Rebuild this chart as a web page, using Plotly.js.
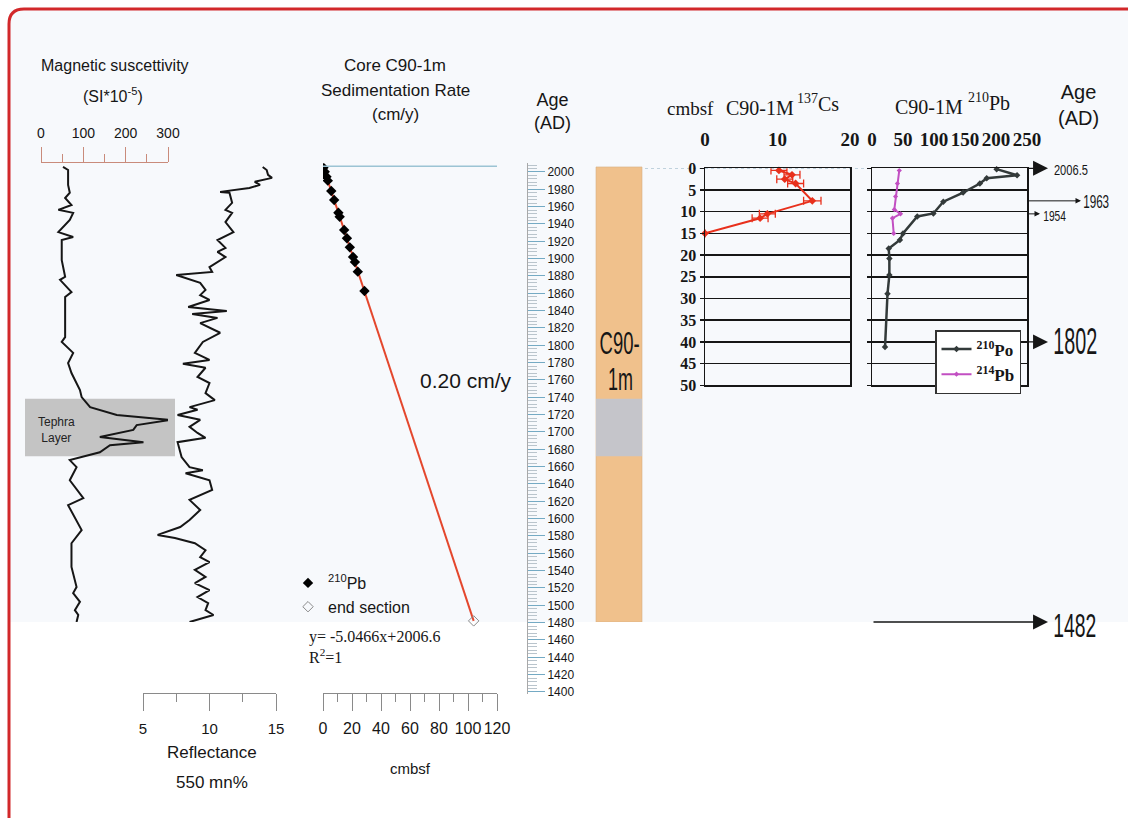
<!DOCTYPE html>
<html>
<head>
<meta charset="utf-8">
<script src="https://cdn.plot.ly/plotly-3.0.1.min.js"></script>
<style>
  html, body { margin: 0; padding: 0; background: #ffffff; }
  #chart { width: 1128px; height: 818px; }
</style>
</head>
<body>
<div id="chart"></div>
<script>
// ---- Magnetic susceptibility (SI*10^-5) against depth (cm) ----
const msDepth = [0, 0.7, 4.1, 5.9, 7.1, 7.5, 8.7, 9.8, 10.5, 12.1, 14.9, 16.0, 16.7, 21.3, 25.1, 25.8, 28.6, 29.7, 38.9, 40.0,
  42.5, 44.8, 47.1, 51.0, 52.6, 54.9, 56.7, 57.8, 59.0, 60.1, 61.7, 62.9, 63.6, 65.2, 66.3, 67.0, 68.6, 71.6, 75.7, 77.3,
  83.0, 86.0, 91.4, 96.0, 97.4, 99.4, 101.3, 102.4, 104];
const msValue = [52, 64, 64, 68, 57, 61, 72, 41, 76, 68, 41, 76, 49, 49, 57, 45, 72, 57, 57, 49,
  76, 64, 72, 92, 96, 116, 179, 305, 226, 218, 139, 242, 163, 139, 92, 68, 84, 68, 100, 64,
  96, 72, 72, 84, 76, 92, 80, 88, 84];

// ---- Reflectance 550 nm (%) against depth (cm) ----
const rfDepth = [0, 0.7, 1.8, 2.5, 3.4, 4.1, 4.8, 5.7, 5.9, 8.2, 9.8, 10.5, 12.6, 14.9, 16.7, 18.5, 19.4, 20.6, 22.9, 24.0,
  24.7, 25.8, 26.5, 28.1, 29.3, 30.4, 32.0, 32.9, 33.6, 34.5, 35.7, 37.9, 40.0, 42.5, 44.1, 45.0, 45.9, 48.0, 49.4, 51.7,
  53.3, 54.9, 55.5, 56.7, 57.8, 59.4, 60.8, 61.9, 62.9, 66.3, 68.6, 69.3, 70.0, 71.6, 73.8, 76.1, 78.4, 80.7, 82.3, 84.1,
  84.8, 86.0, 87.6, 89.2, 90.3, 92.1, 93.7, 95.1, 96.7, 98.3, 99.7, 101.3, 102.4, 104];
const rfValue = [14.0, 14.3, 14.4, 14.7, 13.4, 13.8, 13.0, 10.8, 11.5, 11.7, 11.2, 11.7, 11.2, 11.8, 10.6, 11.2, 10.6, 11.2, 10.0, 10.2,
  7.5, 8.5, 9.3, 9.7, 9.3, 10.0, 8.4, 11.3, 8.7, 10.6, 9.3, 10.8, 9.5, 8.9, 10.0, 8.0, 9.7, 9.1, 10.0, 9.7,
  10.4, 8.5, 9.1, 7.6, 9.3, 8.5, 9.1, 9.7, 7.6, 7.9, 8.5, 9.5, 8.2, 10.0, 10.2, 8.5, 9.3, 8.5, 7.8, 6.1,
  7.4, 8.9, 9.7, 9.3, 10.0, 8.9, 9.7, 8.9, 10.0, 9.1, 9.9, 9.7, 10.3, 8.5];

// Tephra layer and core extent (cm)
const coreDepth = [0, 104];
const tephraDepth = [53.0, 66.1];

// ---- Sedimentation rate: 210Pb ages and linear fit y = -5.0466x + 2006.6 ----
const pbDepth = [0.3, 1.2, 2.4, 3.3, 5.7, 7.7, 10.6, 11.5, 14.6, 16.5, 18.5, 20.7, 22.0, 24.0, 28.6];
const pbAge = [2005.0, 2000.3, 1994.6, 1990.0, 1978.0, 1967.7, 1953.0, 1948.4, 1933.0, 1923.5, 1913.0, 1902.0, 1896.0, 1885.0, 1862.7];
const fitDepth = [0, 103.9];
const fitAge = [2006.6, 1482];
const endDepth = [103.9];
const endAge = [1482];
const ageTicks = [];
for (let a = 1400; a <= 2000; a += 20) ageTicks.push(a);
const cmTicks = [0, 20, 40, 60, 80, 100, 120];
const cmMinor = [10, 30, 50, 70, 90, 110];

// ---- 137Cs activity ----
const csDepth = [0.5, 1.5, 2.5, 3.5, 7.5, 10.5, 11.5, 15];
const csValue = [10.2, 12.0, 11.0, 12.5, 14.8, 8.6, 7.6, 0];
const csErr = [1.1, 1.1, 1.1, 1.1, 1.2, 1.1, 1.1, 0];

// ---- 210Pb profile (210Po and 214Pb) ----
const poDepth = [0.2, 1.6, 2.3, 3.5, 5.6, 7.7, 10.4, 11.1, 15, 16.5, 18.5, 20.8, 24.6, 28.9, 41.2];
const poValue = [201, 234, 185, 174, 147, 115, 99, 73, 50, 45, 27, 28, 28, 25, 21];
const pb214Depth = [0.5, 3.5, 6.5, 9.5, 10.5, 11.5, 15];
const pb214Value = [44, 41, 38, 36, 46, 33, 35];
const profileTicks = [0, 5, 10, 15, 20, 25, 30, 35, 40, 45, 50];

// Dated horizons (depth in cm, age label)
const horizonDepth = [0, 7.5, 10.5, 40];
const horizonLabel = ['2006.5', '1963', '1954', '1802'];
const baseLabel = '1482';

// ---- page geometry helpers (pixel -> paper) ----
const W = 1128, H = 818;
const px = v => v / W;
const py = v => 1 - v / H;

const SANS = 'Liberation Sans, Arial, sans-serif';
const SERIF = 'Liberation Serif, Times New Roman, serif';
const INK = '#161616';

const traces = [
  { x: msValue, y: msDepth, xaxis: 'x', yaxis: 'y', mode: 'lines', line: { color: INK, width: 2 }, showlegend: false, hoverinfo: 'skip' },
  { x: rfValue, y: rfDepth, xaxis: 'x2', yaxis: 'y', mode: 'lines', line: { color: INK, width: 2 }, showlegend: false, hoverinfo: 'skip' },
  { x: fitDepth, y: fitAge, xaxis: 'x3', yaxis: 'y3', mode: 'lines', line: { color: '#e4472d', width: 2 }, showlegend: false },
  { x: pbDepth, y: pbAge, xaxis: 'x3', yaxis: 'y3', mode: 'markers', name: '<sup>210</sup>Pb',
    marker: { symbol: 'diamond', size: 8, color: '#000' }, legend: 'legend2' },
  { x: endDepth, y: endAge, xaxis: 'x3', yaxis: 'y3', mode: 'markers', name: 'end section', cliponaxis: false,
    marker: { symbol: 'diamond-open', size: 8, color: '#8a8a8a', line: { width: 1 } }, legend: 'legend2' },
  { x: csValue, y: csDepth, xaxis: 'x4', yaxis: 'y4', mode: 'lines+markers', showlegend: false, cliponaxis: false,
    line: { color: '#e8301c', width: 2 }, marker: { symbol: 'diamond', size: 6, color: '#e8301c' },
    error_x: { type: 'data', array: csErr, color: '#e8301c', thickness: 1.3, width: 4 } },
  { x: poValue, y: poDepth, xaxis: 'x5', yaxis: 'y5', mode: 'lines+markers', name: '<sup>210</sup>Po', cliponaxis: false,
    line: { color: '#333a3a', width: 2.5 }, marker: { symbol: 'diamond', size: 5, color: '#333a3a' } },
  { x: pb214Value, y: pb214Depth, xaxis: 'x5', yaxis: 'y5', mode: 'lines+markers', name: '<sup>214</sup>Pb',
    line: { color: '#c24fc2', width: 2 }, marker: { symbol: 'diamond', size: 4, color: '#c24fc2' } }
];

const profileY = {
  domain: [py(385.3), py(168.3)], range: [50, 0], tickvals: profileTicks,
  ticks: 'outside', ticklen: 4, tickcolor: INK, tickwidth: 1.5,
  showgrid: true, gridcolor: INK, gridwidth: 1.5, zeroline: false,
  showline: true, mirror: true, linecolor: INK, linewidth: 1.5,
  tickfont: { family: SERIF, size: 16, color: INK, weight: 'bold' }, fixedrange: true
};
const profileX = {
  side: 'top', ticks: '', showline: true, mirror: true, linecolor: INK, linewidth: 1.5,
  showgrid: false, zeroline: false, ticklabelstandoff: 13,
  tickfont: { family: SERIF, size: 19, color: INK, weight: 'bold' }, fixedrange: true
};

function txt(text, x, y, size, opts) {
  return Object.assign({
    text: text, xref: 'paper', yref: 'paper', x: px(x), y: py(y), showarrow: false,
    xanchor: 'center', yanchor: 'middle', font: { family: SANS, size: size, color: INK }
  }, opts || {});
}
function arrow(yref, yv, tipX, tailX, big) {
  return {
    text: '', xref: 'paper', x: px(tipX), yref: yref, y: yv, axref: 'pixel', ayref: 'pixel',
    ax: tailX - tipX, ay: 0, showarrow: true, arrowhead: 2,
    arrowsize: big ? 2.3 : 1.1, arrowwidth: big ? 1.3 : 1, arrowcolor: INK, standoff: 0
  };
}
function horizonText(text, x, yref, yv, size, dy) {
  return {
    text: text, xref: 'paper', x: px(x), yref: yref, y: yv, yshift: dy || 0,
    xanchor: 'center', yanchor: 'middle', showarrow: false,
    font: { family: SANS, size: size, color: INK }
  };
}
// condensed-type labels: annotation text squeezed to a set width about its centre after drawing
const condensed = [];
function narrow(ann, width) {
  condensed.push({ idx: annotations.length, width: width });
  annotations.push(ann);
}

const annotations = [
  txt('Magnetic suscettivity', 115, 66, 16),
  txt('(SI*10<sup>-5</sup>)', 113, 95, 16),
  txt('Tephra<br>Layer', 57, 430, 12, { font: { family: SANS, size: 12, color: '#222' } }),
  txt('Reflectance', 212, 752, 17),
  txt('550 mn%', 212, 782, 17),
  txt('Core C90-1m', 395, 66, 17),
  txt('Sedimentation Rate', 395, 90, 17),
  txt('(cm/y)', 395, 114, 17),
  txt('0.20 cm/y', 466, 380, 21),
  txt('y= -5.0466x+2006.6', 307, 637, 16, { xanchor: 'left', font: { family: SERIF, size: 16, color: INK } }),
  txt('R<sup>2</sup>=1', 307, 656, 16, { xanchor: 'left', font: { family: SERIF, size: 16, color: INK } }),
  txt('cmbsf', 410, 768, 15),
  txt('Age<br>(AD)', 552, 112, 18),
  txt('cmbsf', 690, 108, 19, { font: { family: SERIF, size: 19, color: INK } }),
  txt('C90-1M', 760, 108, 20, { font: { family: SERIF, size: 20, color: INK } }),
  txt('<sup>137</sup>Cs', 818, 103, 20, { font: { family: SERIF, size: 20, color: INK } }),
  txt('C90-1M', 929, 107, 20, { font: { family: SERIF, size: 20, color: INK } }),
  txt('<sup>210</sup>Pb', 989, 102, 20, { font: { family: SERIF, size: 20, color: INK } }),
  txt('Age<br>(AD)', 1078, 105, 20),
  // dated horizons
  arrow('y5', horizonDepth[0], 1048, 1027, true),
  arrow('y5', horizonDepth[1], 1081, 1027, false),
  arrow('y5', horizonDepth[2], 1040, 1027, false),
  arrow('y5', horizonDepth[3], 1048, 1027, true),
  arrow('y', coreDepth[1], 1048, 872, true)
];

narrow(txt('C90-', 619, 344, 31), 40);
narrow(txt('1m', 620, 379, 31), 25);
narrow(horizonText(horizonLabel[0], 1071, 'y5', horizonDepth[0], 15, -1), 34);
narrow(horizonText(horizonLabel[1], 1096, 'y5', horizonDepth[1], 19, -1), 26);
narrow(horizonText(horizonLabel[2], 1054, 'y5', horizonDepth[2], 14, -2), 23);
narrow(horizonText(horizonLabel[3], 1075, 'y5', horizonDepth[3], 37, 0), 44);
narrow(horizonText(baseLabel, 1075, 'y', coreDepth[1], 34, -3), 43);

const shapes = [
  // light panel behind the plots
  { type: 'rect', xref: 'paper', yref: 'paper', x0: px(10), x1: 1, y0: py(622), y1: py(10),
    fillcolor: '#f7f9fc', line: { width: 0 }, layer: 'below' },
  // frame
  { type: 'path', xref: 'paper', yref: 'paper',
    path: `M ${px(9)} 0 L ${px(9)} ${py(24)} Q ${px(9)} ${py(9)} ${px(24)} ${py(9)} L 1 ${py(9)}`,
    line: { color: '#d2282a', width: 3 }, layer: 'above' },
  // tephra band across the logs
  { type: 'rect', xref: 'paper', yref: 'y', x0: px(25), x1: px(175), y0: tephraDepth[0], y1: tephraDepth[1],
    fillcolor: '#c4c4c4', line: { width: 0 }, layer: 'below' },
  // core column
  { type: 'rect', xref: 'paper', yref: 'y', x0: px(596), x1: px(642), y0: coreDepth[0], y1: coreDepth[1],
    fillcolor: '#f0c18c', line: { color: '#d6b084', width: 0.6 }, layer: 'below' },
  { type: 'rect', xref: 'paper', yref: 'y', x0: px(596), x1: px(642), y0: tephraDepth[0], y1: tephraDepth[1],
    fillcolor: '#c5c5ca', line: { width: 0 }, layer: 'below' },
  // core top line in the age-depth plot
  { type: 'line', xref: 'x3', yref: 'y3', x0: 0, x1: 120, y0: fitAge[0], y1: fitAge[0],
    line: { color: '#9cc4d4', width: 1.5 } },
  // dotted core top across the isotope profiles
  { type: 'line', xref: 'paper', yref: 'y4', x0: px(645), x1: px(872), y0: 0, y1: 0,
    line: { color: '#9cb8c8', width: 1, dash: 'dot' }, layer: 'below' }
];

const layout = {
  width: W, height: H,
  margin: { l: 0, r: 0, t: 0, b: 0 },
  paper_bgcolor: '#ffffff', plot_bgcolor: 'rgba(0,0,0,0)',
  font: { family: SANS, color: INK },
  showlegend: true,
  xaxis: {
    domain: [px(41), px(168)], range: [0, 300], side: 'top', anchor: 'y',
    tickvals: [0, 100, 200, 300], ticks: 'outside', ticklen: 15, tickcolor: '#c98b7b', tickwidth: 1,
    minor: { tickvals: [50, 150, 250], ticks: 'outside', ticklen: 8, tickcolor: '#c98b7b' },
    showline: true, linecolor: '#c98b7b', linewidth: 1, showgrid: false, zeroline: false, ticklabelstandoff: 3,
    tickfont: { family: SANS, size: 14, color: INK }, fixedrange: true
  },
  yaxis: { domain: [py(622), py(163)], range: [104, -0.9], visible: false, fixedrange: true },
  xaxis2: {
    domain: [px(143), px(276)], range: [5, 15], anchor: 'free', position: py(693), side: 'bottom',
    tickvals: [5, 10, 15], ticks: 'outside', ticklen: 17, tickcolor: '#8a8a8a', ticklabelstandoff: 5,
    minor: { tickvals: [7.5, 12.5], ticks: 'outside', ticklen: 8, tickcolor: '#8a8a8a' },
    showline: true, linecolor: '#8a8a8a', showgrid: false, zeroline: false,
    tickfont: { family: SANS, size: 15, color: INK }, fixedrange: true
  },
  xaxis3: {
    domain: [px(323), px(497)], range: [0, 120], anchor: 'free', position: py(693), side: 'bottom',
    tickvals: cmTicks, ticks: 'outside', ticklen: 17, tickcolor: '#8a8a8a', tickangle: 0, ticklabelstandoff: 4,
    minor: { tickvals: cmMinor, ticks: 'outside', ticklen: 8, tickcolor: '#8a8a8a' },
    showline: true, linecolor: '#8a8a8a', showgrid: false, zeroline: false,
    tickfont: { family: SANS, size: 16, color: INK }, fixedrange: true
  },
  yaxis3: {
    domain: [py(693.7), py(163.3)], range: [1398, 2010], anchor: 'free', position: px(527), side: 'right',
    tickvals: ageTicks, ticks: 'outside', ticklen: 17, tickcolor: '#74aac4', tickwidth: 1,
    minor: { dtick: 4, tick0: 1400, ticks: 'outside', ticklen: 9, tickcolor: '#b9c4cc' },
    showline: true, linecolor: '#a8a8a8', showgrid: false, zeroline: false,
    tickfont: { family: SANS, size: 12, color: INK }, fixedrange: true
  },
  xaxis4: Object.assign({}, profileX, { domain: [px(705), px(850)], range: [0, 20], anchor: 'y4', tickvals: [0, 10, 20] }),
  yaxis4: Object.assign({}, profileY, { anchor: 'x4' }),
  xaxis5: Object.assign({}, profileX, { domain: [px(872), px(1027)], range: [0, 250], anchor: 'y5', tickvals: [0, 50, 100, 150, 200, 250] }),
  yaxis5: Object.assign({}, profileY, { anchor: 'x5', showticklabels: false }),
  legend: {
    x: px(935), y: py(330), xanchor: 'left', yanchor: 'top',
    bgcolor: '#ffffff', bordercolor: '#333', borderwidth: 1.5,
    font: { family: SERIF, size: 17, color: INK, weight: 'bold' }, itemwidth: 30, tracegroupgap: 0
  },
  legend2: {
    x: px(288), y: py(566), xanchor: 'left', yanchor: 'top',
    bgcolor: 'rgba(0,0,0,0)', borderwidth: 0,
    font: { family: SANS, size: 16, color: INK }, itemwidth: 30
  },
  annotations: annotations,
  shapes: shapes
};

Plotly.newPlot('chart', traces, layout, { staticPlot: true, displayModeBar: false }).then(gd => {
  condensed.forEach(c => {
    const t = gd.querySelector(`.annotation[data-index="${c.idx}"] text.annotation-text`);
    if (!t) return;
    const bb = t.getBBox();
    if (!bb.width) return;
    const cx = bb.x + bb.width / 2;
    const s = c.width / bb.width;
    const prev = t.getAttribute('transform') || '';
    t.setAttribute('transform', `${prev} translate(${cx},0) scale(${s},1) translate(${-cx},0)`.trim());
  });
});
</script>
</body>
</html>
